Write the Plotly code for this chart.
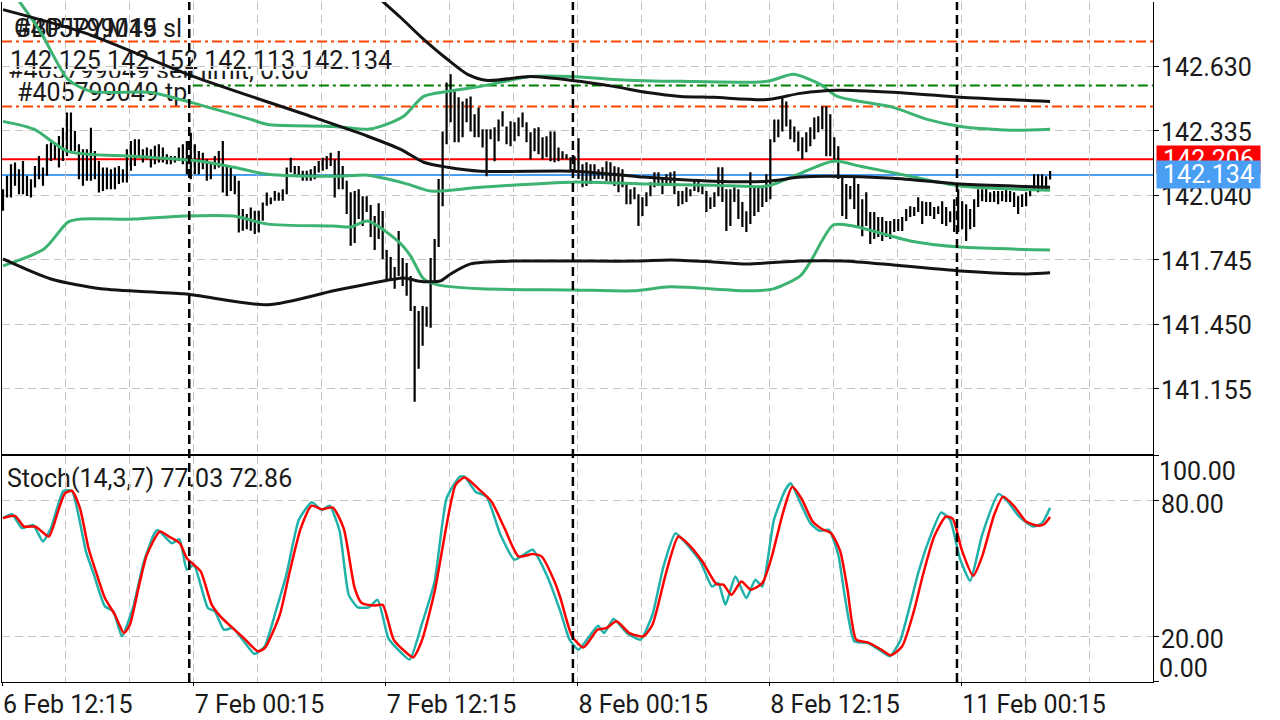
import plotly.graph_objects as go

# bar index 0 = 6 Feb 12:15, one bar per 15 minutes (weekend gap removed)
highs = [
    142.069, 142.130, 142.183, 142.191, 142.160, 142.198, 142.130, 142.114, 142.175, 142.221,
    142.168, 142.274, 142.282, 142.282, 142.312, 142.350, 142.419, 142.419, 142.335, 142.274,
    142.251, 142.251, 142.350, 142.244, 142.198, 142.168, 142.168, 142.160, 142.168, 142.175,
    142.160, 142.251, 142.289, 142.297, 142.297, 142.251, 142.259, 142.251, 142.267, 142.274,
    142.259, 142.229, 142.221, 142.221, 142.259, 142.274, 142.289, 142.327, 142.274, 142.244,
    142.236, 142.206, 142.191, 142.221, 142.244, 142.289, 142.175, 142.168, 142.130, 142.107,
    141.978, 141.955, 141.985, 141.970, 141.970, 142.008, 142.054, 142.031, 142.061, 142.054,
    142.069, 142.168, 142.213, 142.175, 142.175, 142.153, 142.153, 142.160, 142.175, 142.198,
    142.213, 142.221, 142.236, 142.206, 142.244, 142.175, 142.107, 142.055, 142.060, 142.069,
    142.037, 142.037, 141.996, 141.946, 142.005, 141.969, 141.791, 141.759, 141.713, 141.877,
    141.754, 141.731, 141.672, 141.535, 141.512, 141.535, 141.531, 141.754, 141.841, 142.115,
    142.333, 142.557, 142.594, 142.516, 142.489, 142.470, 142.484, 142.493, 142.411, 142.443,
    142.343, 142.343, 142.343, 142.352, 142.388, 142.425, 142.356, 142.379, 142.375, 142.397,
    142.420, 142.375, 142.329, 142.347, 142.352, 142.306, 142.311, 142.333, 142.333, 142.260,
    142.242, 142.229, 142.215, 142.219, 142.302, 142.183, 142.192, 142.183, 142.183, 142.160,
    142.169, 142.197, 142.192, 142.174, 142.169, 142.160, 142.101, 142.069, 142.078, 142.046,
    142.032, 142.055, 142.101, 142.146, 142.146, 142.124, 142.137, 142.146, 142.151, 142.060,
    142.060, 142.078, 142.069, 142.115, 142.105, 142.092, 142.060, 142.032, 142.055, 142.169,
    142.169, 142.069, 142.069, 142.078, 142.069, 142.010, 141.968, 142.146, 142.078, 142.083,
    142.078, 142.137, 142.297, 142.388, 142.388, 142.493, 142.470, 142.388, 142.356, 142.333,
    142.306, 142.329, 142.352, 142.397, 142.402, 142.448, 142.448, 142.411, 142.306, 142.265,
    142.128, 142.092, 142.083, 142.124, 142.092, 142.023, 142.055, 141.964, 141.964, 141.941,
    141.941, 141.923, 141.923, 141.932, 141.932, 141.941, 141.978, 141.991, 141.987, 142.032,
    142.014, 142.010, 142.010, 141.987, 141.991, 142.014, 141.987, 141.968, 142.023, 142.069,
    142.014, 142.000, 141.978, 142.023, 142.069, 142.069, 142.078, 142.055, 142.060, 142.060,
    142.060, 142.069, 142.060, 142.055, 142.037, 142.046, 142.055, 142.060, 142.137, 142.137,
    142.137, 142.128, 142.152,
]
lows = [
    141.970, 142.031, 142.031, 142.084, 142.046, 142.046, 142.038, 142.031, 142.076, 142.114,
    142.084, 142.130, 142.198, 142.206, 142.168, 142.198, 142.221, 142.244, 142.244, 142.114,
    142.084, 142.107, 142.107, 142.114, 142.054, 142.061, 142.069, 142.069, 142.069, 142.092,
    142.099, 142.099, 142.153, 142.175, 142.213, 142.191, 142.206, 142.168, 142.183, 142.191,
    142.191, 142.183, 142.183, 142.191, 142.198, 142.183, 142.137, 142.114, 142.137, 142.137,
    142.160, 142.107, 142.114, 142.160, 142.168, 142.054, 142.038, 142.061, 142.046, 141.871,
    141.879, 141.886, 141.879, 141.864, 141.871, 141.924, 141.993, 142.000, 142.016, 142.016,
    142.016, 142.046, 142.145, 142.137, 142.130, 142.107, 142.107, 142.107, 142.114, 142.145,
    142.153, 142.160, 142.175, 142.031, 142.069, 142.069, 141.955, 141.810, 141.823, 141.932,
    141.900, 141.964, 141.850, 141.791, 141.841, 141.750, 141.658, 141.649, 141.613, 141.672,
    141.626, 141.581, 141.512, 141.097, 141.248, 141.353, 141.439, 141.435, 141.645, 141.804,
    141.991, 142.274, 142.375, 142.283, 142.283, 142.306, 142.375, 142.333, 142.306, 142.306,
    142.260, 142.128, 142.297, 142.197, 142.288, 142.356, 142.274, 142.265, 142.288, 142.311,
    142.352, 142.283, 142.206, 142.242, 142.229, 142.206, 142.215, 142.197, 142.192, 142.197,
    142.206, 142.206, 142.151, 142.146, 142.115, 142.078, 142.083, 142.092, 142.115, 142.115,
    142.115, 142.105, 142.092, 142.083, 142.055, 142.078, 142.000, 142.000, 142.023, 141.900,
    141.946, 141.991, 142.037, 142.078, 142.083, 142.046, 142.083, 142.092, 142.046, 141.991,
    142.000, 142.010, 142.037, 142.060, 142.055, 142.046, 141.964, 141.978, 141.987, 142.037,
    142.010, 141.877, 141.900, 142.010, 141.932, 141.896, 141.873, 141.909, 141.946, 141.964,
    141.987, 142.010, 142.023, 142.283, 142.306, 142.333, 142.356, 142.297, 142.283, 142.242,
    142.206, 142.238, 142.265, 142.297, 142.329, 142.343, 142.219, 142.219, 142.192, 142.115,
    141.946, 141.932, 142.023, 141.978, 141.900, 141.854, 141.900, 141.818, 141.841, 141.850,
    141.832, 141.850, 141.841, 141.873, 141.877, 141.877, 141.923, 141.941, 141.946, 141.964,
    141.909, 141.946, 141.946, 141.932, 141.955, 141.909, 141.900, 141.918, 141.873, 141.873,
    141.886, 141.832, 141.886, 141.896, 141.987, 142.014, 142.010, 142.010, 142.010, 142.000,
    142.014, 142.010, 142.010, 141.987, 141.955, 141.987, 141.991, 142.037, 142.060, 142.055,
    142.060, 142.060, 142.113,
]
bar_idx = list(range(len(highs)))

# black bands (upper / middle / lower), sampled at bar positions
blk_mid_x = [0, 20.25, 47.75, 77.75, 91.25, 99.5, 105.25, 111.25, 119.5, 142.5, 152.75, 160.25,
             177.75, 191.25, 199.5, 206.25, 222.75, 239.5, 262]
blk_mid = [142.890, 142.785, 142.584, 142.397, 142.311, 142.251, 142.192, 142.169, 142.151, 142.151,
           142.137, 142.124, 142.105, 142.105, 142.124, 142.128, 142.119, 142.092, 142.078]
blk_up_x = [0, 24.5, 49.5, 66.25, 77.75, 87, 94.5, 99.5, 104.5, 111.25, 116.25, 121.25, 132, 142.5,
            152.75, 161.25, 169.5, 177.75, 191.25, 199.5, 208.75, 227, 239.5, 262]
blk_up = [144.031, 143.912, 143.552, 143.374, 143.228, 143.063, 142.936, 142.854, 142.767, 142.662,
          142.594, 142.566, 142.584, 142.566, 142.539, 142.511, 142.493, 142.489, 142.479, 142.507,
          142.521, 142.507, 142.489, 142.470]
blk_lo_x = [0, 12, 24.5, 45.25, 66.25, 82.75, 91.25, 100.25, 103.75, 107, 109.5, 112, 117, 127.75,
            142.5, 158.75, 167, 177.75, 186.25, 199.5, 210.25, 222.75, 239.5, 256.25, 262]
blk_lo = [141.750, 141.658, 141.613, 141.590, 141.540, 141.604, 141.635, 141.663, 141.649, 141.645,
          141.649, 141.681, 141.727, 141.740, 141.740, 141.740, 141.745, 141.736, 141.727, 141.740,
          141.740, 141.722, 141.695, 141.681, 141.686]

# green bands (upper / middle / lower)
grn_up_x = [0, 3.75, 9.5, 16.25, 22, 37, 47, 62, 66.25, 82.75, 91.25, 94.5, 100.25, 105.25, 111.25,
            119.5, 132, 142.5, 152.75, 169.5, 191.25, 197.75, 204.5, 208.75, 222.75, 231.25, 239.5,
            252, 262]
grn_up = [143.027, 142.936, 142.785, 142.571, 142.516, 142.511, 142.466, 142.388, 142.365, 142.356,
          142.343, 142.356, 142.402, 142.493, 142.516, 142.539, 142.584, 142.584, 142.571, 142.562,
          142.562, 142.594, 142.548, 142.493, 142.443, 142.388, 142.356, 142.338, 142.343]
grn_mid_x = [0, 7.75, 16.25, 32.75, 49.5, 57.75, 66.25, 82.75, 91.25, 96.25, 101.25, 107, 119.5,
             142.5, 161.25, 177.75, 191.25, 197.75, 207.75, 214.5, 227, 239.5, 262]
grn_mid = [142.379, 142.343, 142.242, 142.219, 142.197, 142.169, 142.137, 142.128, 142.133, 142.115,
           142.092, 142.060, 142.078, 142.101, 142.092, 142.087, 142.083, 142.128, 142.197, 142.174,
           142.128, 142.083, 142.064]
grn_lo_x = [0, 10.25, 16.25, 19.5, 32.75, 45.25, 57.75, 66.25, 82.75, 87, 91.25, 98.75, 102, 105.25,
            108.75, 119.5, 142.5, 157.75, 167, 186.25, 192.75, 199.5, 202, 207.75, 212.75, 227,
            239.5, 262]
grn_lo = [141.718, 141.795, 141.918, 141.932, 141.932, 141.946, 141.946, 141.909, 141.900, 141.896,
          141.923, 141.832, 141.763, 141.658, 141.631, 141.613, 141.608, 141.604, 141.622, 141.604,
          141.613, 141.672, 141.736, 141.905, 141.900, 141.832, 141.804, 141.791]

# Stochastic (14,3,7): main line and signal line
k_x = [0, 2.25, 4.75, 7.5, 10, 12, 15.1, 17.25, 20.75, 22.75, 25.5, 27.6, 29.75, 32.5, 35.25, 37.9,
       38.75, 42.25, 44.15, 46, 47.75, 51.25, 53, 55.25, 57.5, 60.25, 62.9, 65.5, 68.25, 71, 74,
       77.25, 79.75, 81.75, 84.25, 86.5, 88.75, 91.5, 93.75, 96.4, 98.5, 101.75, 104.75, 108, 111,
       114.25, 115.5, 118.25, 121, 124.5, 128, 132.5, 136, 139.5, 141.75, 144, 147, 148.9, 150.4,
       152.75, 156.15, 159.5, 162.5, 165.25, 168.25, 170.5, 174.5, 177.4, 179, 180.75, 183.25, 186,
       188.25, 190, 192.9, 195.75, 197.1, 199.75, 202, 204.25, 206.65, 209, 210.7, 213, 216.4,
       219.75, 221.9, 224.45, 229, 231.25, 234.75, 237, 239.4, 242, 245, 249.1, 251.4, 254.25,
       257.75, 260, 262]
k_val = [72.4, 74.1, 68.0, 69.4, 62.1, 68.0, 84.4, 84.4, 57.7, 47.4, 33.4, 31.2, 20.2, 32.7, 53.2, 65.7,
         67.2, 61.3, 63.1, 49.6, 51.8, 32.7, 31.2, 23.1, 23.8, 18.0, 12.4, 15.8, 31.2, 48.1, 71.6,
         79.4, 76.0, 77.9, 66.5, 38.5, 33.0, 33.0, 36.3, 19.4, 15.0, 9.9, 25.3, 44.4, 81.2,
         90.7, 90.7, 84.1, 81.9, 65.0, 54.0, 58.4, 47.4, 31.0, 18.7, 14.3, 20.9, 24.9, 21.6,
         27.8, 21.6, 18.7, 29.7, 51.0, 65.7, 62.1, 53.2, 42.2, 43.7, 34.1, 46.6, 37.1,
         45.2, 42.2, 71.6, 84.9, 87.8, 78.2, 70.2, 66.8, 67.2, 56.2, 37.1, 18.0, 17.2,
         13.6, 11.4, 18.0, 48.1, 60.6, 74.9, 71.6, 54.7, 44.7, 65.0, 83.1, 79.7, 73.1,
         68.7, 70.2, 77.03]
d_x = [0, 3, 5.25, 8, 9.25, 11.5, 13.75, 15.5, 17.25, 19.25, 21.4, 23.5, 25.5, 28, 30.25, 31.75, 33.9,
       36, 39.25, 41.5, 44.25, 46, 47.75, 49.5, 52.25, 54.75, 57.5, 60.25, 63.75, 65.5, 69.25, 71.75,
       74.5, 77.25, 79.75, 82.5, 85.25, 88, 89.75, 93.25, 95, 97.75, 100.5, 102.6, 104.75, 108, 111,
       113.25, 115.5, 119.25, 122.25, 125.5, 129, 132.5, 134.75, 138, 139.5, 142.4, 145.25, 148.75,
       151, 153.5, 156.75, 160.25, 162.5, 166, 169, 171.65, 175, 178.5, 180.25, 182.25, 184.75,
       187.1, 190, 192.25, 195.25, 197.5, 199.75, 202.6, 205, 207.25, 209.5, 211.25, 213.5, 216.4,
       219.75, 222.15, 225, 227.9, 230.2, 233, 235.9, 237.65, 239.9, 242.75, 245, 248, 250.25,
       253.1, 256, 258.9, 260.5, 262]
d_val = [72.4, 73.4, 68.7, 68.7, 67.2, 64.3, 75.3, 83.4, 84.4, 76.8, 59.1, 47.4, 37.1, 29.7, 21.6, 25.3,
         41.5, 56.2, 66.5, 64.3, 61.3, 54.7, 51.8, 48.8, 34.1, 28.3, 23.8, 19.4, 13.6, 15.0, 29.7,
         48.8, 67.9, 77.9, 76.3, 77.1, 67.9, 41.5, 34.9, 33.8, 34.1, 18.7, 13.6, 10.9, 18.0, 40.0,
         69.4, 87.1, 90.3, 84.9, 79.7, 67.9, 55.5, 56.5, 55.5, 44.4, 37.0, 20.2, 15.3, 23.1,
         23.8, 26.8, 21.6, 20.2, 25.3, 48.8, 64.3, 60.6, 53.2, 43.3, 43.0, 38.5, 44.4,
         40.8, 43.7, 54.7, 75.3, 86.3, 81.2, 70.9, 67.5, 65.7, 57.7, 41.5, 18.7, 17.5,
         14.3, 11.8, 15.8, 31.2, 47.4, 64.3, 73.1, 72.1, 58.4, 46.9, 55.5, 73.8, 81.9,
         77.5, 70.9, 69.1, 69.7, 72.86]

assert len(highs) == len(lows)
assert len(k_x) == len(k_val) and len(d_x) == len(d_val)

# order levels and prices
sl_price = 142.744
tp_price = 142.543
limit_price = 142.447
ask_price = 142.206
bid_price = 142.134
tp_from_bar = 47.5

separators = [46.6, 142.6, 238.7]  # day starts: 7 Feb, 8 Feb, 11 Feb
time_ticks = [-0.25, 47.75, 95.75, 143.75, 191.75, 239.75]
time_labels = ['6 Feb 12:15', '7 Feb 00:15', '7 Feb 12:15', '8 Feb 00:15', '8 Feb 12:15', '11 Feb 00:15']
price_ticks = [141.155, 141.450, 141.745, 142.040, 142.335, 142.630]

FONT = 'Roboto'
FS = 25
TXT = '#1a1a1a'
GRID = '#c4c4c4'
GRID_DASH = '8px,5px'
W, H = 1280, 720
ML, MR, MT, MB = 1, 127, 2, 36


def px(x):
    # page pixel -> paper x
    return (x - ML) / (W - ML - MR)


def py(y):
    # page pixel -> paper y
    return (H - MB - y) / (H - MT - MB)


fig = go.Figure()

fig.add_trace(go.Bar(
    x=bar_idx, y=[h - l for h, l in zip(highs, lows)], base=lows,
    width=0.55, marker=dict(color='black', line=dict(width=0)),
    xaxis='x', yaxis='y', hoverinfo='skip',
))

for xs, ys, col in [
    (grn_up_x, grn_up, '#3cb371'), (grn_mid_x, grn_mid, '#3cb371'), (grn_lo_x, grn_lo, '#3cb371'),
    (blk_up_x, blk_up, '#141414'), (blk_mid_x, blk_mid, '#141414'), (blk_lo_x, blk_lo, '#141414'),
]:
    fig.add_trace(go.Scatter(x=xs, y=ys, mode='lines',
                             line=dict(color=col, width=3, shape='spline', smoothing=0.7),
                             xaxis='x', yaxis='y', hoverinfo='skip'))

fig.add_trace(go.Scatter(x=k_x, y=k_val, mode='lines',
                         line=dict(color='#20b2aa', width=2.5, shape='spline', smoothing=0.5),
                         xaxis='x2', yaxis='y2', hoverinfo='skip'))
fig.add_trace(go.Scatter(x=d_x, y=d_val, mode='lines',
                         line=dict(color='#ff0000', width=2.5, shape='spline', smoothing=0.6),
                         xaxis='x2', yaxis='y2', hoverinfo='skip'))

shapes = []
dashdot = '10px,4px,3px,4px'
for level, col, x0 in [(sl_price, '#ff4500', -0.25), (tp_price, '#008000', tp_from_bar),
                       (limit_price, '#ff4500', -0.25)]:
    shapes.append(dict(type='line', xref='x', yref='y', x0=x0, x1=287.75, y0=level, y1=level,
                       line=dict(color=col, width=2, dash=dashdot), layer='between'))
shapes.append(dict(type='line', xref='paper', yref='y', x0=0, x1=1, y0=ask_price, y1=ask_price,
                   line=dict(color='#ff0000', width=2), layer='between'))
shapes.append(dict(type='line', xref='paper', yref='y', x0=0, x1=1, y0=bid_price, y1=bid_price,
                   line=dict(color='#4a9ff5', width=2), layer='between'))


def text_box(text, x0, x1, y0, y1, fill):
    return dict(type='rect', xref='paper', yref='paper', x0=px(x0), x1=px(x1), y0=py(y1), y1=py(y0),
                fillcolor=fill, line=dict(width=0), layer='between',
                label=dict(text=text, textposition='middle left', padding=4,
                           font=dict(family=FONT, size=FS, color=TXT)))


shapes += [
    text_box('#405799049 sl', 7, 190, 14, 40, 'white'),
    text_box('GBPJPY,M15', 6, 200, 14, 40, 'rgba(0,0,0,0)'),
    text_box('#405799049 sell limit, 0.60', 0, 330, 56, 81, 'rgba(0,0,0,0)'),
    text_box('142.125 142.152 142.113 142.134', 2, 398, 47, 71, 'white'),
    text_box('#405799049 tp', 9, 192, 78, 103, 'white'),
    text_box('Stoch(14,3,7) 77.03 72.86', -1, 320, 465, 490, 'rgba(0,0,0,0)'),
]

for s in separators:
    shapes.append(dict(type='line', xref='x', yref='paper', x0=s, x1=s, y0=0, y1=1,
                       line=dict(color='black', width=2.5, dash='9px,5px'), layer='above'))

annotations = [
    dict(text='142.206', xref='paper', yref='y', x=1.003, y=ask_price, xanchor='left', yanchor='middle',
         showarrow=False, bgcolor='#ff0000', width=101, height=25,
         font=dict(family=FONT, size=FS, color='white')),
    dict(text='142.134', xref='paper', yref='y', x=1.003, y=bid_price, xanchor='left', yanchor='middle',
         showarrow=False, bgcolor='#4a9ff5', width=101, height=25,
         font=dict(family=FONT, size=FS, color='white')),
    dict(text='100.00', xref='paper', yref='y2', x=1, y=93.2, xanchor='left', yanchor='middle',
         xshift=4, showarrow=False, font=dict(family=FONT, size=FS, color=TXT)),
    dict(text='0.00', xref='paper', yref='y2', x=1, y=5.9, xanchor='left', yanchor='middle',
         xshift=4, showarrow=False, font=dict(family=FONT, size=FS, color=TXT)),
]

xcommon = dict(
    range=[-0.25, 287.75], tickvals=time_ticks, showgrid=True, gridcolor=GRID, griddash=GRID_DASH,
    gridwidth=1, zeroline=False, showline=True, linecolor='black', linewidth=1,
    minor=dict(tick0=-0.25, dtick=16, showgrid=True, gridcolor=GRID, griddash=GRID_DASH, ticks=''),
)
ycommon = dict(
    side='right', showgrid=True, gridcolor=GRID, griddash=GRID_DASH, zeroline=False,
    showline=True, mirror=True, linecolor='black', linewidth=1,
    ticks='outside', ticklen=5, tickcolor='black', ticklabelstandoff=-3,
    tickfont=dict(family=FONT, size=FS, color=TXT),
)

fig.update_layout(
    width=W, height=H, autosize=False,
    margin=dict(l=ML, r=MR, t=MT, b=MB),
    paper_bgcolor='white', plot_bgcolor='white',
    showlegend=False, barmode='overlay',
    xaxis=dict(domain=[0, 1], anchor='y', showticklabels=False, ticks='', **xcommon),
    xaxis2=dict(domain=[0, 1], anchor='y2', matches='x', ticktext=time_labels,
                ticklabelposition='outside right', ticks='outside', ticklen=3, tickcolor='black',
                tickfont=dict(family=FONT, size=FS, color=TXT), mirror=True, **xcommon),
    yaxis=dict(domain=[py(455), 1], anchor='x', range=[140.859, 142.925], ticklabelshift=1,
               tickvals=price_ticks, ticktext=[f'{v:.3f}' for v in price_ticks], **ycommon),
    yaxis2=dict(domain=[0, py(457)], anchor='x2', range=[0, 100], ticklabelshift=3,
                tickvals=[0, 20, 80, 100], ticktext=['', '20.00', '80.00', ''], **ycommon),
    shapes=shapes,
    annotations=annotations,
)

# the page body has a default margin; drop it so the figure sits at the window corner
fig.write_html("out.html", config={'displayModeBar': False},
               post_script="document.body.style.margin='0';")
